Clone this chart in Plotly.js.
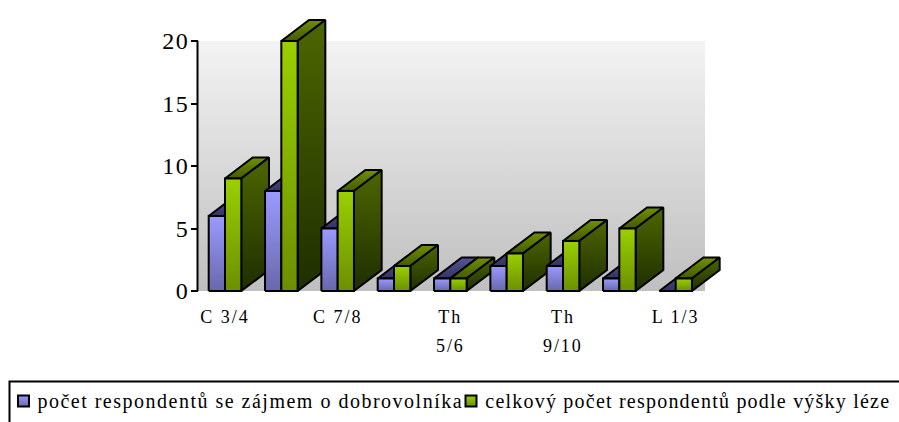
<!DOCTYPE html>
<html><head><meta charset="utf-8">
<script src="https://cdn.plot.ly/plotly-3.0.1.min.js"></script>
<style>
html,body{margin:0;padding:0;background:#fff;overflow:hidden}
.xtick text{letter-spacing:2px}
.ytick text{letter-spacing:1.5px}
.annotation-text{letter-spacing:1.9px}
g.annotation[data-index="2"] .annotation-text{letter-spacing:1.5px}
g.annotation[data-index="3"] .annotation-text{letter-spacing:1.22px}
</style></head><body><div id="chart" style="width:899px;height:422px"></div>
<script>
const groupPositions=[0,1,2,3,4,5,6,7,8];
const seriesVolunteerValues=[6,8,5,1,1,2,2,1,0];
const seriesTotalValues=[9,20,8,2,1,3,4,5,1];
const tickPositions=[0,2,4,6,8];
const tickLabels=['C 3/4','C 7/8','Th','Th','L 1/3'];
const secondLineLabels=[[4,'5/6'],[6,'9/10']];
const seriesNames=['počet respondentů se zájmem o dobrovolníka','celkový počet respondentů podle výšky léze'];

const W=899,H=422,L=198,R=705,T=41,B=291;
const pxX=(R-L)/9, pxY=(B-T)/20;
const x0=-27/pxX, x1=x0+9;
const barW=16.3/pxX, dX=27.7/pxX, dY=21/pxY;
const dataX=p=>x0+(p-L)/pxX, dataY=p=>(B-p)/pxY;
const paperX=p=>p/W, paperY=p=>1-p/H;
const grad=(a,b)=>({type:'vertical',colorscale:[[0,a],[1,b]]});
const styles=[
 {front:['#6868ab','#9a9aff'],top:['#333366','#55559a'],side:['#333366','#555599']},
 {front:['#6c8f00','#9ad000'],top:['#445a00','#6f9000'],side:['#1f2e00','#4d6600']}
];
const traces=[];
function poly(xs,ys,fg){
 traces.push({type:'scatter',mode:'lines',x:xs.concat(xs[0]),y:ys.concat(ys[0]),fill:'toself',
  fillgradient:fg,line:{color:'#000',width:2,shape:'linear'},cliponaxis:false,showlegend:false,hoverinfo:'skip'});
}
traces.push({type:'scatter',mode:'lines',x:[x0,x1,x1,x0,x0],y:[0,0,20,20,0],fill:'toself',
 fillgradient:grad('#bfbfbf','#f3f3f3'),line:{width:0},showlegend:false,hoverinfo:'skip'});
function drawBar(left,v,st){
 const r=left+barW;
 poly([left,r,r+dX,left+dX],[v,v,v+dY,v+dY],grad(st.top[0],st.top[1]));
 poly([r,r+dX,r+dX,r],[0,dY,v+dY,v],grad(st.side[0],st.side[1]));
 poly([left,r,r,left],[0,0,v,v],grad(st.front[0],st.front[1]));
}
groupPositions.forEach((g,i)=>{
 drawBar(g-barW,seriesVolunteerValues[i],styles[0]);
 drawBar(g,seriesTotalValues[i],styles[1]);
});
[[23.5,0],[471,1]].forEach(([p,k])=>{
 traces.push({type:'scatter',mode:'markers',x:[dataX(p)],y:[dataY(401)],cliponaxis:false,showlegend:false,hoverinfo:'skip',
  marker:{symbol:'square',size:11,color:styles[k].front[1],gradient:{type:'vertical',color:styles[k].front[0]},line:{color:'#000',width:2}}});
});
const font={family:'"Liberation Serif",serif',color:'#000'};
const annotations=[
 ...secondLineLabels.map(([g,t])=>({xref:'x',yref:'paper',x:g,y:paperY(346),text:t,showarrow:false,xanchor:'center',yanchor:'middle',font:{...font,size:18}})),
 {xref:'paper',yref:'paper',x:paperX(27),y:paperY(401),text:seriesNames[0],showarrow:false,xanchor:'left',yanchor:'middle',font:{...font,size:20}},
 {xref:'paper',yref:'paper',x:paperX(469),y:paperY(401),text:seriesNames[1],showarrow:false,xanchor:'left',yanchor:'middle',font:{...font,size:20}}
];
const layout={
 width:W,height:H,margin:{l:0,r:0,t:0,b:0,pad:0},paper_bgcolor:'#fff',plot_bgcolor:'#fff',showlegend:false,font,
 xaxis:{range:[dataX(0),dataX(W)],anchor:'free',position:paperY(B),tickmode:'array',tickvals:tickPositions,ticktext:tickLabels,ticks:'',showgrid:false,zeroline:false,showline:false,
  tickfont:{...font,size:18},ticklabelstandoff:13,automargin:false},
 yaxis:{range:[dataY(H),dataY(0)],anchor:'free',position:paperX(L),tickmode:'array',tickvals:[0,5,10,15,20],ticks:'outside',ticklen:7,tickwidth:2,tickcolor:'#000',showgrid:false,zeroline:false,
  showline:false,tickfont:{...font,size:24},ticklabelstandoff:-3,automargin:false},
 annotations,
 shapes:[
  {type:'line',xref:'x',yref:'y',x0:dataX(L-0.5),x1:dataX(L-0.5),y0:0,y1:20,line:{color:'#000',width:2}},
  {type:'rect',xref:'paper',yref:'paper',x0:paperX(9.5),x1:paperX(1000),y0:paperY(381.5),y1:paperY(600),line:{color:'#000',width:2},fillcolor:'rgba(0,0,0,0)',layer:'below'}]
};
Plotly.newPlot('chart',traces,layout,{displayModeBar:false,staticPlot:true});
</script></body></html>
